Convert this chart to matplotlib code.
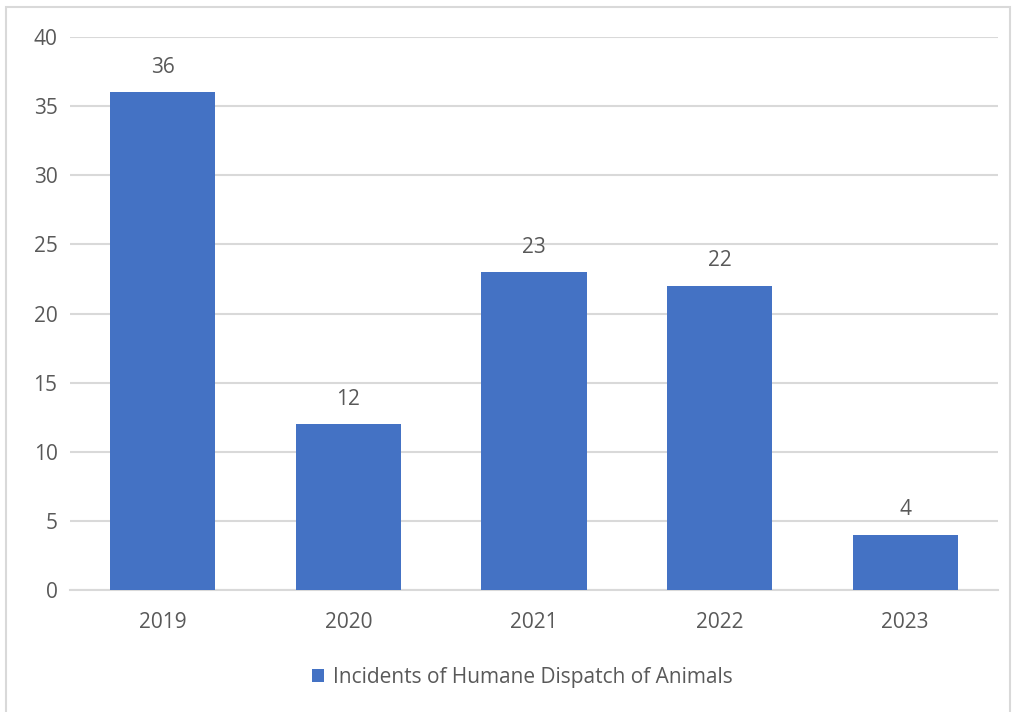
import matplotlib.pyplot as plt
from matplotlib.patches import Rectangle

years = ["2019", "2020", "2021", "2022", "2023"]
incidents = [36, 12, 23, 22, 4]
series_name = "Incidents of Humane Dispatch of Animals"

plt.rcParams['font.family'] = ['Open Sans', 'DejaVu Sans']
text_color = "#595959"
bar_color = "#4472C4"
font_size = 15

fig = plt.figure(figsize=(10.16, 7.12), dpi=100)
ax = fig.add_axes([70 / 1016, 122 / 712, 928 / 1016, 553 / 712])

x = range(len(years))
bars = ax.bar(x, incidents, width=0.566, color=bar_color, zorder=3, label=series_name)

for rect, val in zip(bars, incidents):
    ax.annotate(str(val), (rect.get_x() + rect.get_width() / 2, val),
                xytext=(0, 18), textcoords="offset points",
                ha="center", va="center", fontsize=font_size, color=text_color)

ax.set_xlim(-0.5, len(years) - 0.5)
ax.set_ylim(0, 40)
ax.set_yticks(range(0, 41, 5))
ax.set_xticks(list(x))
ax.set_xticklabels(years)
ax.yaxis.grid(True, color="#D9D9D9", linewidth=1.5, zorder=0)
ax.tick_params(axis="both", length=0, labelsize=font_size, labelcolor=text_color)
ax.tick_params(axis="x", pad=16)
ax.tick_params(axis="y", pad=9)
for side in ["top", "right", "left"]:
    ax.spines[side].set_visible(False)
ax.spines["bottom"].set_color("#D9D9D9")
ax.spines["bottom"].set_linewidth(1.5)

fig.legend(handles=[bars], labels=[series_name], loc="center",
           bbox_to_anchor=(522 / 1016, 1 - 677 / 712), frameon=False,
           fontsize=font_size, labelcolor=text_color, handlelength=0.6,
           handleheight=0.6, handletextpad=0.4)

# outer chart frame
fig.patches.append(Rectangle((6 / 1016, -0.05), 1004 / 1016, 1.05 - 7 / 712,
                             transform=fig.transFigure, fill=False,
                             edgecolor="#D9D9D9", linewidth=1.5))

fig.savefig("out.png", dpi=100)
